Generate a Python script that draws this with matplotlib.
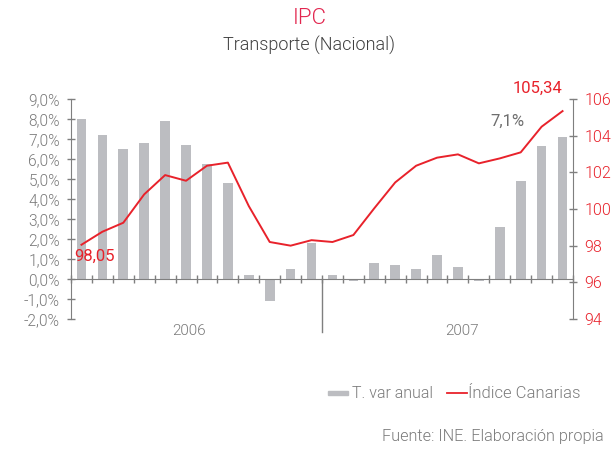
import matplotlib
matplotlib.use('Agg')
import matplotlib.pyplot as plt
import numpy as np
from matplotlib.lines import Line2D
from matplotlib.patches import Rectangle
from matplotlib.transforms import blended_transform_factory

plt.rcParams['font.family'] = ['Roboto', 'DejaVu Sans']

# ---------------- data ----------------
months = ['ene-06', 'feb-06', 'mar-06', 'abr-06', 'may-06', 'jun-06',
          'jul-06', 'ago-06', 'sep-06', 'oct-06', 'nov-06', 'dic-06',
          'ene-07', 'feb-07', 'mar-07', 'abr-07', 'may-07', 'jun-07',
          'jul-07', 'ago-07', 'sep-07', 'oct-07', 'nov-07', 'dic-07']
var_anual = [8.0, 7.2, 6.5, 6.8, 7.9, 6.7, 5.75, 4.8, 0.2, -1.1, 0.5, 1.8,
             0.2, -0.1, 0.8, 0.7, 0.5, 1.2, 0.6, -0.1, 2.6, 4.9, 6.65, 7.1]
indice = [98.05, 98.76, 99.25, 100.8, 101.85, 101.54, 102.36, 102.53,
          100.16, 98.2, 98.0, 98.3, 98.2, 98.58, 100.04, 101.45, 102.36,
          102.8, 102.98, 102.49, 102.76, 103.09, 104.49, 105.34]
years = ['2006', '2007']
year_label_pos = [5.65, 18.7]
left_ticks = list(range(-2, 10))
left_labels = [f'{v:.1f}%'.replace('.', ',') for v in left_ticks]
right_ticks = [94, 96, 98, 100, 102, 104, 106]
series_names = ['T. var anual', 'Índice Canarias']

BAR = '#bcbdc1'
RED = '#e8222b'
GRAY_TXT = '#7a7a7a'
AXIS = '#7f7f7f'

fig = plt.figure(figsize=(6.14, 4.5), dpi=100)
ax = fig.add_axes([71 / 614, 1 - 319 / 450, (573 - 71) / 614, 220 / 450])
ax2 = ax.twinx()

x = np.arange(len(months)) + 0.5
ax.bar(x, var_anual, width=0.46, color=BAR, zorder=2)
ax.set_xlim(0, len(months))
ax.set_ylim(-2, 9)
ax.set_yticks(left_ticks)
ax.set_yticklabels(left_labels)

ax2.plot(x, indice, color=RED, lw=1.4, zorder=3)
ax2.set_ylim(94, 106)
ax2.set_yticks(right_ticks)
ax2.set_yticklabels([str(v) for v in right_ticks])

for a in (ax, ax2):
    a.spines['top'].set_visible(False)
    a.spines['left'].set_color(AXIS)
    a.spines['right'].set_color(AXIS)
ax2.spines['bottom'].set_visible(False)
ax.spines['right'].set_visible(False)
ax2.spines['left'].set_visible(False)
ax.spines['bottom'].set_position(('data', 0))
ax.spines['bottom'].set_color(AXIS)

ax.set_xticks(np.arange(0, len(months) + 1))
ax.set_xticklabels([])
ax.tick_params(axis='x', direction='inout', length=6, color=AXIS, width=1)
ax.tick_params(axis='y', direction='inout', length=6, color=AXIS, width=1,
               labelsize=11.2, labelcolor=GRAY_TXT, pad=5)
ax2.tick_params(axis='y', direction='inout', length=6, color=AXIS, width=1,
                labelsize=11.5, labelcolor=RED, pad=5)
for lab in ax.get_yticklabels() + ax2.get_yticklabels():
    lab.set_fontweight(300)

# year divider and labels
ax.plot([12, 12], [0, -2.65], color=AXIS, lw=1, clip_on=False, zorder=1)
trans = blended_transform_factory(ax.transData, fig.transFigure)
for yl, xp in zip(years, year_label_pos):
    ax.text(xp, 1 - 331 / 450, yl, transform=trans, ha='center', va='center',
            fontsize=11, color=GRAY_TXT, fontweight=300)

# annotations
ax2.annotate('98,05', (x[0], indice[0]), xytext=(9.7, -8.2),
             textcoords='offset points', ha='center', va='center',
             color=RED, fontsize=12)
ax2.annotate('105,34', (x[-1], indice[-1]), xytext=(-17.7, 16.3),
             textcoords='offset points', ha='center', va='center',
             color=RED, fontsize=12)
ax.annotate('7,1%', (x[-1], var_anual[-1]), xytext=(-40, 11),
            textcoords='offset points', ha='center', va='center',
            color='#6e6e6e', fontsize=12)

# titles
fig.text(310 / 614, 1 - 18 / 450, 'IPC', ha='center', va='center',
         fontsize=16, color='#e2264f', fontweight=300)
fig.text(309 / 614, 1 - 45 / 450, 'Transporte (Nacional)', ha='center',
         va='center', fontsize=13, color='#404040', fontweight=300)

# legend (manual)
fig.patches.append(Rectangle((328 / 614, 1 - 395 / 450), 20 / 614, 4 / 450,
                             transform=fig.transFigure, color=BAR))
fig.text(352 / 614, 1 - 393 / 450, series_names[0], ha='left', va='center',
         fontsize=11.5, color=GRAY_TXT, fontweight=300)
fig.lines.append(Line2D([447 / 614, 467 / 614], [1 - 393 / 450, 1 - 393 / 450],
                        transform=fig.transFigure, color=RED, lw=1.3))
fig.text(468 / 614, 1 - 393 / 450, series_names[1], ha='left', va='center',
         fontsize=12, color=GRAY_TXT, fontweight=300)

fig.text(604 / 614, 1 - 437 / 450, 'Fuente: INE. Elaboración propia',
         ha='right', va='center', fontsize=11.7, color=GRAY_TXT, fontweight=300)

fig.savefig('out.png', dpi=100)
